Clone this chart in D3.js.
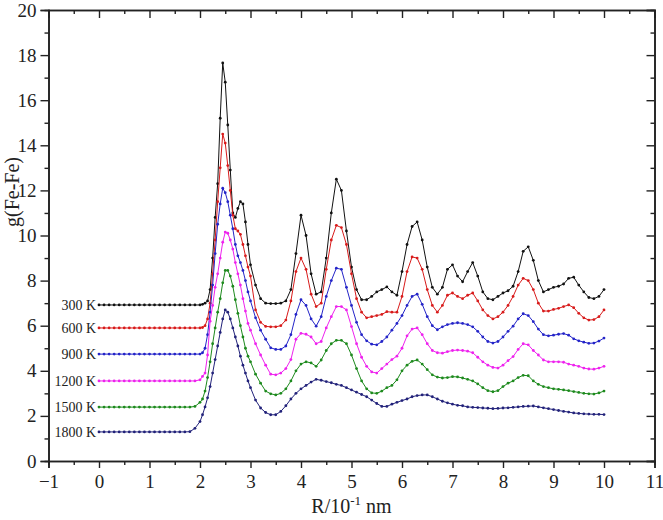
<!DOCTYPE html>
<html>
<head>
<meta charset="utf-8">
<script src="https://cdn.jsdelivr.net/npm/d3@7"></script>
<style>
  body { margin: 0; background: #fff; }
  svg { display: block; }
</style>
</head>
<body>
<svg id="chart" width="663" height="520"></svg>
<script>
// R sampling grid: 0..1.9 by 0.1, 2.0..3.0 by 0.05, 3.1..10.0 by 0.1
const R = [].concat(
  d3.range(0, 20).map(i => i / 10),
  d3.range(40, 61).map(i => i / 20),
  d3.range(31, 101).map(i => i / 10)
);

const labels = ["300 K", "600 K", "900 K", "1200 K", "1500 K", "1800 K"];
const colors = ["#111111", "#d81b1b", "#2424c8", "#ee22ee", "#1d8a1d", "#22227a"];

const g300 = [
  6.92, 6.92, 6.92, 6.92, 6.92, 6.92, 6.92, 6.92, 6.92, 6.92, 6.92, 6.92, 6.92, 6.92, 6.92, 6.92, 6.92, 6.92, 6.92, 6.92,
  6.92, 6.95, 7.0, 7.1, 7.6, 9.0, 10.8, 12.3, 15.2, 17.65, 16.8, 14.9, 12.9, 11.0, 10.8, 11.2, 11.5, 11.4, 10.6, 9.6, 8.7,
  7.8, 7.2, 7.0, 6.98, 6.98, 7.0, 7.1, 7.6, 9.2, 10.9,
  10.0, 8.3, 7.4, 7.5, 9.0, 11.0, 12.5, 12.0, 10.2, 8.6,
  7.6, 7.15, 7.15, 7.3, 7.5, 7.6, 7.72, 7.5, 7.35, 8.4,
  9.6, 10.4, 10.6, 9.8, 8.6, 7.7, 7.4, 7.7, 8.5, 8.7,
  8.2, 7.95, 8.4, 8.8, 8.2, 7.5, 7.2, 7.15, 7.3, 7.45,
  7.55, 7.75, 8.4, 9.3, 9.5, 8.9, 8.0, 7.5, 7.6, 7.7,
  7.75, 7.85, 8.1, 8.15, 7.8, 7.5, 7.25, 7.2, 7.3, 7.6
];
const g600 = [
  5.9, 5.9, 5.9, 5.9, 5.9, 5.9, 5.9, 5.9, 5.9, 5.9, 5.9, 5.9, 5.9, 5.9, 5.9, 5.9, 5.9, 5.9, 5.9, 5.9,
  5.9, 5.92, 6.0, 6.3, 7.0, 8.3, 9.8, 11.5, 13.0, 14.5, 14.1, 13.1, 12.0, 10.9, 10.3, 10.2, 10.05, 9.6, 9.1, 8.6, 8.2,
  6.7, 6.15, 5.97, 5.95, 5.95, 6.0, 6.25, 7.1, 8.4, 9.0,
  8.5, 7.4, 6.85, 7.0, 8.5, 9.8, 10.45, 10.35, 9.6, 8.3,
  7.2, 6.6, 6.35, 6.4, 6.45, 6.5, 6.62, 6.6, 6.6, 7.3,
  8.4, 9.05, 9.0, 8.5, 7.6, 6.9, 6.6, 6.9, 7.35, 7.45,
  7.3, 7.2, 7.35, 7.45, 7.1, 6.7, 6.45, 6.3, 6.4, 6.6,
  6.9, 7.3, 7.8, 8.1, 8.0, 7.6, 7.0, 6.65, 6.65, 6.72,
  6.77, 6.85, 6.92, 6.8, 6.55, 6.35, 6.25, 6.27, 6.4, 6.7
];
const g900 = [
  4.74, 4.74, 4.74, 4.74, 4.74, 4.74, 4.74, 4.74, 4.74, 4.74, 4.74, 4.74, 4.74, 4.74, 4.74, 4.74, 4.74, 4.74, 4.74, 4.74,
  4.74, 4.8, 5.0, 5.6, 6.6, 7.8, 9.2, 10.5, 11.4, 12.1, 11.9, 11.5, 10.9, 10.3, 9.6, 9.1, 8.8, 8.45, 8.0, 7.5, 7.1,
  6.35, 5.8, 5.4, 5.02, 4.95, 4.95, 5.1, 5.6, 6.5, 7.15,
  6.9, 6.3, 5.98, 6.4, 7.3, 8.0, 8.55, 8.5, 7.7, 6.9,
  6.15, 5.6, 5.33, 5.18, 5.15, 5.3, 5.5, 5.8, 6.1, 6.45,
  6.9, 7.3, 7.4, 6.95, 6.4, 6.0, 5.82, 5.95, 6.05, 6.1,
  6.13, 6.1, 6.05, 5.95, 5.75, 5.5, 5.3, 5.23, 5.3, 5.5,
  5.75, 5.98, 6.3, 6.53, 6.45, 6.18, 5.85, 5.6, 5.55, 5.58,
  5.62, 5.65, 5.58, 5.42, 5.33, 5.27, 5.22, 5.23, 5.32, 5.45
];
const g1200 = [
  3.55, 3.55, 3.55, 3.55, 3.55, 3.55, 3.55, 3.55, 3.55, 3.55, 3.55, 3.55, 3.55, 3.55, 3.55, 3.55, 3.55, 3.55, 3.55, 3.55,
  3.6, 3.75, 3.9, 4.7, 6.2, 6.9, 7.7, 8.3, 9.0, 9.7, 10.15, 10.1, 9.8, 9.4, 8.8, 8.3, 7.8, 7.2, 6.65, 6.1, 5.8,
  5.2, 4.7, 4.25, 3.85, 3.82, 3.9, 4.1, 4.5, 5.4, 5.66,
  5.62, 5.5, 5.2, 5.3, 5.9, 6.4, 6.85, 6.85, 6.7, 5.96,
  5.2, 4.6, 4.2, 3.95, 3.9, 4.1, 4.3, 4.5, 4.65, 5.0,
  5.55, 5.85, 5.9, 5.6, 5.2, 4.9, 4.8, 4.78, 4.85, 4.9,
  4.92, 4.9, 4.87, 4.8, 4.6, 4.4, 4.25, 4.15, 4.12, 4.25,
  4.45, 4.63, 4.95, 5.2, 5.15, 4.9, 4.7, 4.48, 4.4, 4.4,
  4.4, 4.38, 4.3, 4.25, 4.2, 4.12, 4.08, 4.07, 4.12, 4.2
];
const g1500 = [
  2.39, 2.39, 2.39, 2.39, 2.39, 2.39, 2.39, 2.39, 2.39, 2.39, 2.39, 2.39, 2.39, 2.39, 2.39, 2.39, 2.39, 2.39, 2.39, 2.42,
  2.6, 2.75, 3.1, 3.7, 4.4, 5.2, 5.9, 6.6, 7.2, 7.9, 8.45, 8.45, 8.2, 7.75, 7.15, 6.55, 6.0, 5.5, 5.0, 4.65, 4.4,
  3.85, 3.45, 3.1, 2.98, 2.93, 3.0, 3.2, 3.55, 4.0, 4.3,
  4.4, 4.35, 4.2, 4.48, 4.9, 5.2, 5.35, 5.35, 5.2, 4.7,
  4.1, 3.55, 3.2, 3.02, 3.0, 3.1, 3.25, 3.35, 3.6, 4.0,
  4.25, 4.42, 4.48, 4.3, 4.05, 3.82, 3.72, 3.68, 3.7, 3.74,
  3.73, 3.68, 3.62, 3.55, 3.42, 3.25, 3.12, 3.07, 3.12, 3.3,
  3.45, 3.55, 3.7, 3.8, 3.78, 3.55, 3.4, 3.3, 3.25, 3.2,
  3.18, 3.15, 3.12, 3.08, 3.04, 3.0, 2.98, 2.97, 3.02, 3.1
];
const g1800 = [
  1.29, 1.29, 1.29, 1.29, 1.29, 1.29, 1.29, 1.29, 1.29, 1.29, 1.29, 1.29, 1.29, 1.29, 1.29, 1.29, 1.29, 1.29, 1.3, 1.45,
  1.75, 2.05, 2.4, 2.8, 3.3, 3.9, 4.5, 5.1, 5.7, 6.3, 6.7, 6.6, 6.3, 5.9, 5.5, 5.1, 4.65, 4.25, 3.9, 3.55, 3.25,
  2.7, 2.35, 2.15, 2.05, 2.05, 2.2, 2.45, 2.75, 3.0, 3.2,
  3.35, 3.5, 3.62, 3.58, 3.52, 3.47, 3.4, 3.35, 3.25, 3.15,
  3.05, 2.95, 2.85, 2.7, 2.55, 2.42, 2.42, 2.52, 2.6, 2.68,
  2.75, 2.85, 2.9, 2.93, 2.93, 2.85, 2.75, 2.65, 2.58, 2.52,
  2.47, 2.45, 2.4, 2.38, 2.37, 2.35, 2.34, 2.32, 2.33, 2.35,
  2.36, 2.38, 2.4, 2.42, 2.43, 2.44, 2.4, 2.36, 2.32, 2.28,
  2.24, 2.2, 2.17, 2.13, 2.11, 2.09, 2.08, 2.07, 2.07, 2.06
];
const seriesValues = [g300, g600, g900, g1200, g1500, g1800];

const xMajor = d3.range(-1, 12);
const xMinor = d3.range(-0.5, 11, 1);
const yMajor = d3.range(0, 21, 2);
const yMinor = d3.range(1, 20, 2);

const FONT = '"Liberation Serif", "DejaVu Serif", serif';
const svg = d3.select("#chart");
const margin = { left: 48.5, right: 8.5, top: 10, bottom: 59 };
const W = 663, H = 520;

const x = d3.scaleLinear().domain([-1, 11]).range([margin.left, W - margin.right]);
const y = d3.scaleLinear().domain([0, 20]).range([H - margin.bottom, margin.top]);

seriesValues.forEach((vals, i) => {
  if (vals.length !== R.length) console.error("length mismatch", labels[i], vals.length, R.length);
});

function drawAxis(gen, transform) {
  const g = svg.append("g").attr("transform", transform).call(gen);
  g.select(".domain").attr("stroke", "#222").attr("stroke-width", 1.6);
  g.selectAll(".tick line").attr("stroke", "#222").attr("stroke-width", 1.4);
  g.selectAll("text")
    .style("font-family", FONT)
    .style("font-size", "19px")
    .attr("fill", "#222");
  return g;
}

// bottom
drawAxis(d3.axisBottom(x).tickValues(xMajor).tickSize(7).tickPadding(7).tickFormat(d => d < 0 ? "\u22121" : d),
  `translate(0,${y(0)})`);
drawAxis(d3.axisBottom(x).tickValues(xMinor).tickSize(4).tickFormat(""), `translate(0,${y(0)})`);
// top (inward)
drawAxis(d3.axisTop(x).tickValues(xMajor).tickSize(-8).tickFormat(""), `translate(0,${y(20)})`);
drawAxis(d3.axisTop(x).tickValues(xMinor).tickSize(-4).tickFormat(""), `translate(0,${y(20)})`);
// left
drawAxis(d3.axisLeft(y).tickValues(yMajor).tickSize(8).tickPadding(4), `translate(${x(-1)},0)`);
drawAxis(d3.axisLeft(y).tickValues(yMinor).tickSize(4).tickFormat(""), `translate(${x(-1)},0)`);
// right (inward)
drawAxis(d3.axisRight(y).tickValues(yMajor).tickSize(-8).tickFormat(""), `translate(${x(11)},0)`);
drawAxis(d3.axisRight(y).tickValues(yMinor).tickSize(-4).tickFormat(""), `translate(${x(11)},0)`);

const line = d3.line().x(d => x(d[0])).y(d => y(d[1]));

seriesValues.forEach((vals, i) => {
  const pts = R.map((r, k) => [r, vals[k]]);
  const g = svg.append("g");
  g.append("path")
    .attr("d", line(pts))
    .attr("fill", "none")
    .attr("stroke", colors[i])
    .attr("stroke-width", 1);
  g.selectAll("circle")
    .data(pts)
    .enter().append("circle")
    .attr("cx", d => x(d[0]))
    .attr("cy", d => y(d[1]))
    .attr("r", 1.4)
    .attr("fill", colors[i]);

  svg.append("text")
    .attr("x", x(0) - 3)
    .attr("y", y(vals[0]))
    .attr("dy", "0.35em")
    .attr("text-anchor", "end")
    .style("font-family", FONT)
    .style("font-size", "14px")
    .attr("fill", "#222")
    .text(labels[i]);
});

// axis titles
const xt = svg.append("text")
  .attr("x", (x(-1) + x(11)) / 2)
  .attr("y", 513)
  .attr("text-anchor", "middle")
  .style("font-family", FONT)
  .style("font-size", "20px")
  .attr("fill", "#222");
xt.append("tspan").text("R/10");
xt.append("tspan").attr("dy", -8).style("font-size", "13px").text("-1");
xt.append("tspan").attr("dy", 8).text(" nm");

svg.append("text")
  .attr("transform", `translate(19,192) rotate(-90)`)
  .attr("text-anchor", "middle")
  .style("font-family", FONT)
  .style("font-size", "20px")
  .attr("fill", "#222")
  .text("g(Fe-Fe)");
</script>
</body>
</html>
